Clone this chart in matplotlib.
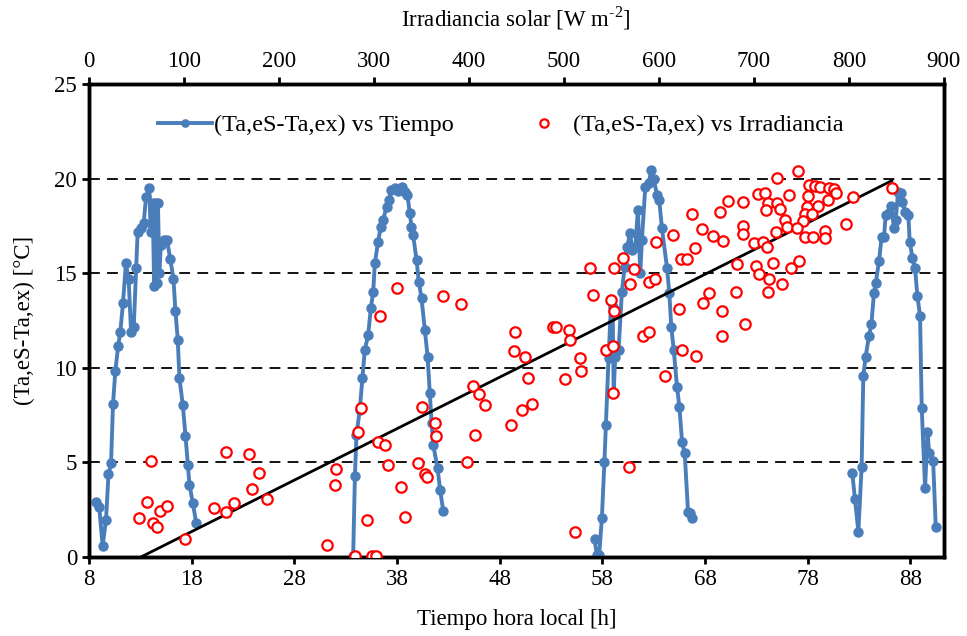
import numpy as np
import matplotlib
matplotlib.use("Agg")
import matplotlib.pyplot as plt

# (Ta,eS-Ta,ex) vs tiempo [h], un bloque por dia
t_dia1 = [8.68, 9.0, 9.33, 9.66, 9.9, 10.15, 10.34, 10.57, 10.85, 11.05, 11.31, 11.6, 11.86,
          12.1, 12.36, 12.6, 12.74, 13.07, 13.33, 13.56, 13.88, 14.0, 14.2, 14.35, 14.5, 14.6,
          14.72, 14.85, 15.0, 15.3, 15.6, 15.93, 16.23, 16.42, 16.65, 16.81, 17.14, 17.4, 17.63,
          17.79, 18.12, 18.44]
dT_dia1 = [2.89, 2.63, 0.60, 1.96, 4.37, 4.95, 8.07, 9.85, 11.17, 11.88, 13.41, 15.52, 14.68,
           11.91, 12.14, 15.29, 17.16, 17.37, 17.63, 19.04, 19.48, 17.2, 18.69, 14.3, 18.7, 14.5,
           18.7, 15.0, 16.5, 16.75, 16.75, 15.73, 14.68, 13.0, 11.47, 9.45, 8.03, 6.41, 4.86,
           3.81, 2.84, 1.81]
t_dia2 = [33.73, 33.9, 34.05, 34.37, 34.63, 34.86, 35.19, 35.45, 35.68, 35.84, 36.16, 36.42,
          36.65, 36.98, 37.2, 37.46, 37.79, 38.11, 38.44, 38.76, 39.02, 39.24, 39.41, 39.57,
          39.9, 40.12, 40.39, 40.71, 40.98, 41.2, 41.37, 41.53, 41.95, 42.2, 42.5]
dT_dia2 = [0.05, 4.28, 6.45, 7.77, 9.44, 10.94, 11.73, 13.14, 14.02, 15.52, 16.67, 17.46,
           17.81, 18.52, 18.87, 19.4, 19.49, 19.36, 19.57, 19.31, 19.13, 18.17, 17.46, 17.02,
           15.7, 14.55, 13.67, 12.0, 10.59, 8.65, 7.07, 5.92, 4.69, 3.54, 2.45]
t_dia3 = [57.24, 57.46, 57.69, 57.95, 58.2, 58.34, 58.6, 58.86, 59.0, 59.1, 59.25, 59.58, 59.9,
          60.17, 60.39, 60.72, 60.88, 61.2, 61.46, 61.69, 61.85, 62.18, 62.5, 62.76, 63.0, 63.32,
          63.54, 63.8, 64.3, 64.52, 64.71, 64.95, 65.27, 65.5, 65.76, 66.02, 66.34, 66.57, 66.73]
dT_dia3 = [0.93, 0.11, 0.11, 2.05, 5.04, 6.98, 10.5, 13.58, 13.23, 8.65, 10.59, 10.94, 14.02,
           15.34, 16.4, 17.11, 16.23, 16.4, 18.34, 14.99, 16.75, 19.57, 19.75, 20.45, 20.0, 19.13,
           18.87, 17.37, 15.26, 13.94, 12.17, 10.94, 9.0, 7.94, 6.09, 5.48, 2.4, 2.3, 2.05]
t_dia4 = [82.34, 82.6, 82.93, 83.25, 83.41, 83.64, 83.97, 84.2, 84.45, 84.62, 84.94, 85.2, 85.43,
          85.59, 85.92, 86.15, 86.41, 86.57, 86.8, 87.06, 87.22, 87.48, 87.8, 87.93, 88.2, 88.45,
          88.68, 88.94, 89.1, 89.43, 89.66, 89.82, 90.21, 90.47]
dT_dia4 = [4.42, 3.05, 1.34, 4.78, 9.57, 10.59, 11.7, 12.3, 13.97, 14.46, 15.64, 16.93, 16.93,
           18.07, 18.17, 18.55, 17.37, 17.81, 19.31, 19.22, 18.78, 18.25, 18.07, 16.67, 15.79, 15.26,
           13.8, 12.74, 7.9, 3.63, 6.62, 5.52, 5.09, 1.57]

# (Ta,eS-Ta,ex) vs irradiancia [W m-2]
irradiancia = [65.3, 61.1, 53.0, 74.5, 82.2, 67.0, 71.3, 101.2, 144.7, 168.6, 179.2, 171.5, 187.3,
               131.4, 144.0, 153.2, 260.3, 258.6, 250.2,
               280.4, 298.0, 302.5, 286.0, 283.0, 304.3, 312.0, 314.8, 328.2, 332.4, 292.3, 324.2,
               306.3, 372.8, 392.1, 350.6, 363.9, 365.7, 346.3, 353.4, 355.8, 406.8, 398.4, 404.0,
               410.6, 417.0, 444.8, 455.7, 466.0, 448.6, 447.9, 458.8, 462.3, 489.0, 492.2, 505.2,
               506.6, 517.2, 517.9, 501.0, 512.2,
               530.8, 527.3, 552.9, 562.4, 549.1, 552.9, 544.1, 551.8, 551.8, 573.9, 570.0, 589.4,
               595.7, 596.8, 614.5, 583.5, 589.4, 606.3, 621.1, 624.0, 639.1, 623.3, 629.3, 638.1,
               635.3, 645.4, 656.7, 667.9, 664.4, 673.1, 689.0, 688.3, 688.3, 646.4, 653.1, 666.8,
               666.8, 680.9, 682.3, 691.1, 700.1, 709.3, 713.5, 701.9, 705.5, 716.3, 714.6, 720.5,
               730.0, 739.5, 747.5, 704.0, 711.7, 715.3, 713.2, 724.8, 727.6, 724.1, 737.4, 732.8,
               734.6, 723.4, 746.2, 758.2, 764.6, 769.9, 756.8, 755.7, 767.9, 753.9, 761.7, 751.5,
               745.2, 753.9, 762.7, 775.0, 775.0, 778.6, 779.6, 784.8, 786.3, 796.8, 804.2, 845.3,
               568.8]
dT_irrad = [5.07, 2.89, 2.06, 2.45, 2.70, 1.80, 1.59, 0.93, 5.55, 5.46, 4.42, 3.57, 3.05,
            2.59, 2.40, 2.84, 4.67, 3.81, 0.63,
            0.07, 0.05, 0.05, 7.90, 6.63, 6.06, 5.92, 4.86, 3.68, 2.10, 1.96, 14.23,
            12.76, 13.81, 13.39, 7.92, 7.07, 6.42, 4.95, 4.39, 4.25, 6.45, 5.02, 9.04,
            8.62, 8.05, 6.98, 7.75, 8.07, 11.91, 10.89, 10.57, 9.48, 12.16, 12.16, 12.0,
            11.47, 10.5, 9.85, 9.41, 1.34,
            13.85, 15.26, 15.29, 15.79, 13.61, 13.02, 10.94, 11.17, 8.65, 15.22, 14.43, 14.53,
            14.69, 16.67, 17.02, 11.7, 11.88, 9.57, 13.09, 10.94, 10.61, 15.75, 15.75, 16.31,
            18.11, 17.32, 16.95, 16.72, 18.25, 18.82, 18.78, 17.49, 17.05, 13.41, 13.97, 13.02,
            11.7, 14.0, 15.49, 12.31, 16.58, 16.67, 16.37, 15.36, 14.96, 14.68, 13.99, 15.56,
            14.45, 15.29, 15.64, 19.19, 19.22, 18.69, 18.32, 18.69, 18.37, 20.02, 19.13, 17.81,
            17.46, 17.2, 20.4, 19.66, 19.61, 19.54, 19.1, 18.52, 18.57, 18.13, 18.13, 17.78,
            17.37, 16.93, 16.9, 17.25, 16.88, 18.87, 19.49, 19.43, 19.25, 17.6, 19.04, 19.48,
            4.77]

xticks_t = np.arange(8, 89, 10)
xticks_i = np.arange(0, 901, 100)
yticks = np.arange(0, 26, 5)

plt.rcParams['font.family'] = ['Liberation Serif', 'DejaVu Serif']
plt.rcParams['font.size'] = 16.5

# dias separados por NaN para que la linea no una las noches
nan = [np.nan]
t_hora = t_dia1 + nan + t_dia2 + nan + t_dia3 + nan + t_dia4
dT_tiempo = dT_dia1 + nan + dT_dia2 + nan + dT_dia3 + nan + dT_dia4

fig = plt.figure(figsize=(9.67, 6.36), dpi=100)
ax = fig.add_axes([0.092, 0.1242, 0.884, 0.7437])
ax2 = ax.twiny()

azul = '#4A7EBB'
l1, = ax.plot(t_hora, dT_tiempo, '-o', color=azul, lw=2.8, ms=6.5,
              label='(Ta,eS-Ta,ex) vs Tiempo', zorder=3)
ax.set_xlim(8, 91.25)
ax.set_ylim(0, 25)
ax.set_xticks(xticks_t)
ax.set_yticks(yticks)
for v in yticks[1:-1]:
    ax.axhline(v, color='black', lw=1.3, ls=(0, (6, 4)), zorder=1)

# linea de tendencia (ajuste lineal)
coef = np.polyfit(irradiancia, dT_irrad, 1)
xr = np.array([min(irradiancia), max(irradiancia)])
ax2.plot(xr, np.polyval(coef, xr), color='black', lw=2, zorder=2)
l2, = ax2.plot(irradiancia, dT_irrad, 'o', mfc='white', mec='red', mew=1.6, ms=7.5,
               ls='none', label='(Ta,eS-Ta,ex) vs Irradiancia', zorder=4)
ax2.set_xlim(0, 900)
ax2.set_xticks(xticks_i)
ax2.set_ylim(0, 25)

ax.set_xlabel('Tiempo hora local [h]', labelpad=14)
ax.set_ylabel('(Ta,eS-Ta,ex) [°C]', labelpad=14)
ax2.set_xlabel('Irradiancia solar [W m$^{\\mathregular{\u20102}}$]', labelpad=18)

for a in (ax, ax2):
    for s in a.spines.values():
        s.set_linewidth(2.5)
ax.tick_params(axis='both', direction='out', width=2, length=5)
ax2.tick_params(axis='x', direction='out', width=2, length=5)

ax.legend(handles=[l1, l2], loc='center left', bbox_to_anchor=(0.081, 0.913), ncol=2,
          frameon=False, columnspacing=2.6, handlelength=2.2, handletextpad=0.1,
          borderpad=0, borderaxespad=0, markerscale=0.8, fontsize=17.5)

fig.savefig('out.png', dpi=100)
